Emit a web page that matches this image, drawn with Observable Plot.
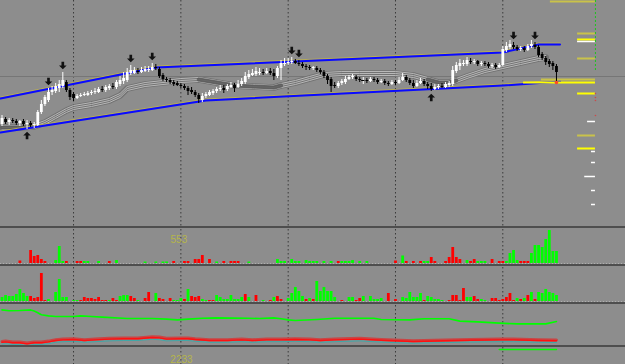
<!DOCTYPE html>
<html><head><meta charset="utf-8">
<script src="https://cdn.jsdelivr.net/npm/d3@7"></script>
<script src="https://cdn.jsdelivr.net/npm/@observablehq/plot@0.6"></script>
<style>
html,body{margin:0;padding:0;background:#8d8d8d;overflow:hidden}
#chart{width:625px;height:364px;position:relative;background:#8d8d8d}
#chart svg{display:block}
.sep{height:2px;background:#4e4e4e;width:625px}
</style></head><body><div id="chart"></div>
<script>
// ---- candles (price units, arbitrary) ----
const open=[106,111,108,110,109,107,109,106,107,105,105,118,126,130,138,139,142,144,148,140,136,132,134,135,135,137,138,138,141,140,142,144,143,146,149,150,157,157,159,158,159,160,160,163,161,155,151,150,148,147,145,144,142,140,138,135,130,134,135,137,139,141,142,141,143,145,143,146,148,153,155,156,157,158,157,159,157,154,162,166,167,168,169,167,166,164,163,162,162,160,158,154,151,145,144,147,148,151,153,153,151,150,150,149,151,150,148,149,147,146,148,147,150,153,150,147,144,147,149,146,144,141,143,144,143,145,146,159,164,166,166,169,168,169,166,167,166,164,165,163,165,180,183,185,183,181,182,180,184,185,183,176,172,169,167,164];
const close=[112,108,110,109,107,109,106,107,105,106,118,126,133,138,140,144,146,150,140,133,132,134,135,136,137,138,139,141,140,143,144,143,148,150,152,158,160,160,158,160,161,161,163,162,154,151,150,148,146,145,144,142,139,138,135,131,134,136,138,139,141,142,140,144,145,142,146,149,154,156,157,159,158,157,159,157,154,162,167,167,168,169,167,166,164,163,162,163,160,158,154,150,144,144,147,149,151,153,154,151,150,150,149,151,150,148,149,147,146,148,147,150,153,150,147,144,147,149,146,144,141,143,144,143,146,147,160,165,167,167,170,168,169,166,167,166,164,165,163,165,181,184,186,183,181,182,180,184,186,183,175,172,168,166,164,158];
const high=[115,113,112,112,111,110,111,110,109,108,120,130,135,142,144,147,150,158,150,142,138,136,137,138,139,140,142,143,144,145,146,147,150,154,158,162,165,163,162,163,164,164,167,166,163,157,153,152,150,149,147,146,144,143,140,137,137,138,140,141,143,145,145,146,148,147,150,152,158,160,161,163,162,161,162,162,161,164,170,172,172,173,171,170,168,166,165,164,164,162,160,156,153,148,149,151,154,155,156,155,153,153,152,153,153,152,151,151,149,150,150,153,157,155,152,150,150,152,151,148,147,146,146,147,148,149,164,168,171,170,173,172,171,170,169,169,168,167,167,167,184,188,190,188,185,184,184,186,190,188,185,178,174,171,169,166];
const low=[104,106,105,107,105,104,104,101,103,102,104,116,124,128,135,137,138,142,138,130,129,131,133,134,134,135,136,137,138,138,140,141,141,144,146,148,155,156,156,157,158,158,159,160,152,149,148,146,144,144,142,140,135,136,133,127,128,132,134,135,137,139,137,139,142,138,142,144,146,151,154,154,155,155,156,155,150,152,150,164,165,166,166,164,162,160,160,160,158,156,152,146,138,142,142,145,146,150,151,149,148,146,147,148,148,146,147,145,144,145,145,146,149,148,145,142,143,146,144,141,139,140,141,142,142,143,144,157,160,164,164,166,166,164,164,164,162,162,161,162,164,178,181,181,179,179,178,179,182,181,173,170,165,163,160,148];
const arrowsDown=[13,17,36,42,81,83,143,149];
const arrowsUp=[7,120];
const daySeps=[20,50,80,110,140];
const currentLevel=154;
const lastMark=148;
// channel lines (index, price)
const upperIdx=[-0.42,43,140,150,156], upperVal=[132,163,178,186,186];
const lowerIdx=[-0.42,57,140,156], lowerVal=[98,130,145,149];
// moving-average ribbon
const ribbonIdx=[0,5,9,12,15,18,20,25,30,33,35,40,45,50,55,60,65,70,76,78,82,86,90,95,100,110,115,119,122,125,127,130,135,140,145,150,152];
const ribbonVal=[103,103,104,108,114,120,123,126,130,135,142,146,148,150,151,148,145,144,143,145,148,152,156,157,157,157,155,151,148,148,150,154,160,164,168,172,173];
const ribbonDark=[[0,10],[52,78],[117,127]];
// right-hand levels
const levelPrice=[229,197,191,189,172,151,148,137,95,82,109,79,68,54,40,26];
const levelFrom=[153.3,160.9,160.9,160.9,160.9,150.8,145.8,160.9,160.9,160.9,163.7,164.8,164.8,162.9,164.8,164.8];
const levelKind=["B","B","A","W","B","B","A","A","B","A","W","W","W","W","W","W"];
const levelTo=165.9;
const profileTop=[160,230];
const profileDots=[137,133,130,115];
// volume panels (sign = direction)
const vol1=[0,0,0,0,0,-42,0,0,-218,-117,-134,-67,-34,0,0,50,285,34,-34,0,0,-34,-34,34,34,0,0,34,0,0,-34,0,50,0,0,0,0,0,0,0,25,0,0,25,0,25,25,0,-34,0,0,-34,-34,0,-67,-67,-134,0,-67,0,25,0,-34,0,-34,-34,-34,0,0,25,0,0,0,0,0,0,0,67,34,34,0,67,34,34,0,50,34,34,34,0,34,0,34,0,-34,34,34,34,50,0,34,0,34,0,0,0,0,0,0,0,-42,0,126,-34,0,-34,0,-34,34,34,-101,-34,0,0,-34,-101,-268,-101,-67,0,50,-34,-67,34,34,34,0,-67,0,-34,-34,34,168,218,50,-34,-34,-34,168,302,302,268,402,553,201,201];
const vol2=[320,480,400,400,560,960,640,400,-400,-240,-320,-2240,-80,160,0,720,1760,320,320,0,80,80,-80,-320,-240,-240,-160,-320,-80,-80,80,-240,-80,400,480,480,-400,-240,80,0,-240,-720,0,640,-240,-160,0,-240,80,80,240,-160,960,-400,-320,-400,160,80,-80,-80,480,320,160,160,480,160,160,320,-560,320,0,-480,0,80,0,-80,320,-400,-160,0,240,640,1120,800,400,-160,240,-160,1600,800,1120,800,800,320,0,-80,0,320,320,-80,-240,400,0,400,160,160,240,0,-640,0,-160,0,320,240,720,320,320,640,-80,400,320,160,160,80,0,-80,-480,-480,-80,-1040,320,320,-400,-160,160,80,0,-240,-240,-80,-160,-320,-640,-80,240,-160,240,-480,720,-160,720,640,960,720,640,480];
const vol1Label="553", vol2Label="2233";
// oscillator panel
const greenIdx=[0,2,5,8,9,10,11,13,15,20,22,25,28,35,42,46,49,52,56,60,69,72,76,78,80,82,88,93,104,106,114,118,125,128,133,139,144,152,155];
const greenVal=[89,87,87.5,89,86,82,77,74,72.5,72.5,74,72.5,71,67.5,67.5,66,64,66,68,69,68,67.5,69,67,64,62.5,65,68,68,65,64,67,67,61,59,56,54,54,60];
const redIdx=[0,1,3,5,7,9,11,13,15,17,20,23,26,30,34,38,42,44,46,50,52,54,58,63,67,70,74,78,82,86,89,93,100,106,115,124,131,139,143,150,155];
const redVal=[8,9,7,7,4,7,7,9,12.5,14,15,12.5,14,16,17,17,20,19,16,17,17,15,12.5,12.5,14,12.5,14,14,15,14,12.5,14,16,13,10,12,13,14,14,12.5,12];
const bottomIdx=[139,147,155], bottomVal=[8.8,8.8,8.8];

// ---------- build ----------
const X={domain:[-0.42,174.3],axis:null};
function panel(h,y,marks,mt=0,mb=0){
  return Plot.plot({width:625,height:h,marginLeft:0,marginRight:0,marginTop:mt,marginBottom:mb,
    x:X,y:{...y,axis:null},style:{background:"transparent",display:"block",fontFamily:"Liberation Sans"},marks});
}
const pts=(I,V)=>I.map((i,k)=>({i,v:V[k]}));
const candles=open.map((o,i)=>({i,o,h:high[i],l:low[i],c:close[i]}));
const col=d=>d.c>=d.o?"#ffffff":"#000000";
const sepMark=Plot.ruleX(daySeps,{stroke:"#3a3a3a",strokeDasharray:"1.5,2.5"});
const arrowDown={draw(ctx,size){const s=Math.sqrt(size)/2;ctx.moveTo(-s*0.35,-s);ctx.lineTo(s*0.35,-s);ctx.lineTo(s*0.35,0);ctx.lineTo(s,0);ctx.lineTo(0,s);ctx.lineTo(-s,0);ctx.lineTo(-s*0.35,0);ctx.closePath();}};
const arrowUp={draw(ctx,size){const s=Math.sqrt(size)/2;ctx.moveTo(-s*0.35,s);ctx.lineTo(s*0.35,s);ctx.lineTo(s*0.35,0);ctx.lineTo(s,0);ctx.lineTo(0,-s);ctx.lineTo(-s,0);ctx.lineTo(-s*0.35,0);ctx.closePath();}};
const ribbon=pts(ribbonIdx,ribbonVal);
const ribbonDarkPts=ribbonDark.flatMap((r,k)=>ribbon.filter(d=>d.i>=r[0]&&d.i<=r[1]).map(d=>({...d,g:k})));
const upper=pts(upperIdx,upperVal), lower=pts(lowerIdx,lowerVal);
const levelColors={A:"#ffff00",B:"#c9c24a",W:"#ffffff"};
const levels=levelPrice.map((p,k)=>({p,from:levelFrom[k],kind:levelKind[k]}));

const main=panel(226,{domain:[4,230]},[
  sepMark,
  Plot.ruleY([currentLevel],{stroke:"#767676"}),
  Plot.line(ribbon,{x:"i",y:"v",stroke:"#727272",strokeWidth:6.5}),
  Plot.line(ribbon,{x:"i",y:"v",stroke:"#b8b8b8",strokeWidth:1,dy:-2}),
  Plot.line(ribbon,{x:"i",y:"v",stroke:"#b8b8b8",strokeWidth:1}),
  Plot.line(ribbon,{x:"i",y:"v",stroke:"#b8b8b8",strokeWidth:1,dy:2}),
  Plot.line(ribbonDarkPts,{x:"i",y:"v",z:"g",stroke:"#5a5a5a",strokeWidth:4,strokeOpacity:0.85}),
  Plot.line(upper,{x:"i",y:"v",stroke:"#b7ad55",strokeWidth:1,dy:-1.5}),
  Plot.line(lower,{x:"i",y:"v",stroke:"#b7ad55",strokeWidth:1,dy:-1.5}),
  Plot.line(upper,{x:"i",y:"v",stroke:"#0a0aff",strokeWidth:2}),
  Plot.line(lower,{x:"i",y:"v",stroke:"#0a0aff",strokeWidth:2}),
  Plot.ruleY(levels,{y:"p",x1:"from",x2:()=>levelTo,stroke:d=>levelColors[d.kind],strokeWidth:d=>d.kind==="W"?1.5:2}),
  Plot.ruleX([levelTo],{y1:profileTop[0],y2:profileTop[1],stroke:"#1fc41f",strokeDasharray:"2,2"}),
  Plot.dot(profileDots,{x:()=>levelTo,y:d=>d,r:0.8,fill:"#cc4a4a"}),
  Plot.ruleX(candles,{x:"i",y1:"l",y2:"h",stroke:col,strokeWidth:1}),
  Plot.ruleX(candles.filter(d=>d.o!==d.c),{x:"i",y1:"o",y2:"c",stroke:col,strokeWidth:2.8}),
  Plot.ruleY(candles.filter(d=>d.o===d.c),{y:"c",x1:d=>d.i-0.45,x2:d=>d.i+0.45,stroke:"#000"}),
  Plot.dot(arrowsDown,{x:d=>d,y:d=>high[d],symbol:arrowDown,r:4.3,fill:"#111",dy:-7}),
  Plot.dot(arrowsUp,{x:d=>d,y:d=>low[d],symbol:arrowUp,r:4.3,fill:"#111",dy:6}),
  Plot.dot([candles.length-1],{x:d=>d,y:()=>lastMark,r:1.8,fill:"#ff4a20"})
]);
const volMarks=(vals,label)=>[
  sepMark,
  Plot.ruleY([0],{stroke:"#b0b0b0",strokeDasharray:"1,2"}),
  Plot.ruleX(vals.map((v,i)=>({i,v})).filter(d=>d.v!==0),{x:"i",y1:0,y2:d=>Math.abs(d.v),stroke:d=>d.v>0?"#00ff00":"#ff0000",strokeWidth:2.8}),
  ...(label?[label]:[])
];
const p1=panel(36,{domain:[0,570]},volMarks(vol1,
  Plot.text([{i:daySeps[1],t:vol1Label}],{x:"i",text:"t",frameAnchor:"top",dy:10.5,dx:-2,fill:"#b5b54a",fontSize:10,lineAnchor:"middle"})),1,1);
const p2=panel(36,{domain:[0,2720]},volMarks(vol2,null),1,1);
const green=pts(greenIdx,greenVal), red=pts(redIdx,redVal);
const p3=panel(41,{domain:[0,100]},[
  sepMark,
  Plot.line(green,{x:"i",y:"v",stroke:"#00ff00",strokeWidth:1.6}),
  Plot.line(red,{x:"i",y:"v",stroke:"#3fa8a8",strokeWidth:1,dy:1.8}),
  Plot.line(red,{x:"i",y:"v",stroke:"#c84646",strokeWidth:3,dy:-0.8}),
  Plot.line(red,{x:"i",y:"v",stroke:"#ff1010",strokeWidth:1.4})
],1,0);
const p4=panel(17,{domain:[0,10]},[
  sepMark,
  Plot.line(pts(bottomIdx,bottomVal),{x:"i",y:"v",stroke:"#00ff00",strokeWidth:1.6}),
  Plot.text([{i:daySeps[1],t:vol2Label}],{x:"i",text:"t",frameAnchor:"top",dy:12.5,dx:0.6,fill:"#b5b54a",fontSize:10,lineAnchor:"middle"})
]);
const root=document.getElementById("chart");
const sep=()=>{const d=document.createElement("div");d.className="sep";return d;};
root.append(main,sep(),p1,sep(),p2,sep(),p3,sep(),p4);
</script></body></html>
